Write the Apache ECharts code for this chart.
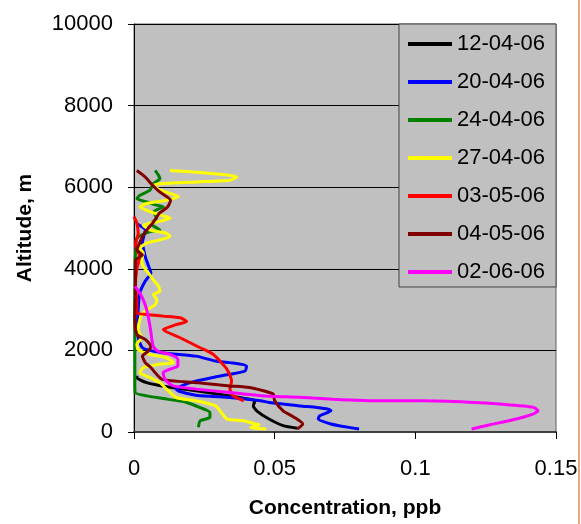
<!DOCTYPE html>
<html>
<head>
<meta charset="utf-8">
<script src="https://cdn.jsdelivr.net/npm/echarts@6/dist/echarts.min.js"></script>
<style>
  html, body { margin: 0; padding: 0; background: #fff; }
  #chart { width: 581px; height: 524px; }
</style>
</head>
<body>
<div id="chart"></div>
<script>
// [concentration ppb, altitude m]
var dates = ['12-04-06', '20-04-06', '24-04-06', '27-04-06', '03-05-06', '04-05-06', '02-06-06']
var colors = ['#000000', '#0000FF', '#008000', '#FFFF00', '#FF0000', '#800000', '#FF00FF']

var p120406 = [[0.058, 90], [0.053, 155], [0.048, 317], [0.0436, 520], [0.0424, 640], [0.043, 765], [0.041, 805],
  [0.034, 885], [0.022, 1010], [0.010, 1130], [0.0045, 1210], [0.001, 1335], [0.001, 1380]]

var p200406 = [[0.080, 73], [0.074, 140], [0.070, 195], [0.0655, 317], [0.066, 400], [0.070, 520], [0.069, 560],
  [0.065, 600], [0.059, 640], [0.048, 725], [0.045, 765], [0.034, 846], [0.028, 870], [0.022, 900], [0.016, 1000],
  [0.015, 1050], [0.017, 1130], [0.020, 1210], [0.028, 1335], [0.034, 1415], [0.0395, 1495], [0.040, 1620],
  [0.034, 1700], [0.029, 1740], [0.022, 1860], [0.010, 1944], [0.003, 2065], [0.001, 2510], [0.0015, 3000],
  [0.002, 3400], [0.004, 3700], [0.006, 3900], [0.005, 4100], [0.004, 4300], [0.003, 4650], [0.004, 4950], [0.001, 5100]]

var p240406 = [[0.0229, 115], [0.0235, 275], [0.027, 358], [0.027, 480], [0.0235, 600], [0.0187, 725], [0.0104, 820],
  [0.0045, 885], [0.0004, 968], [0.0003, 1200], [0.0003, 2000], [0.0003, 3000], [0.0004, 4000], [0.0006, 4500],
  [0.001, 4750], [0.0057, 4910], [0.0092, 4950], [0.006, 5100], [0.008, 5240], [0.007, 5400], [0.0104, 5520],
  [0.0081, 5560], [0.0045, 5640], [0.001, 5720], [0.0021, 5800], [0.0057, 5930], [0.0069, 6090], [0.0092, 6210],
  [0.0087, 6290], [0.0075, 6410]]

var p270406 = [[0.047, 73], [0.0415, 105], [0.0445, 180], [0.043, 200], [0.039, 275], [0.033, 317], [0.031, 480],
  [0.029, 640], [0.022, 765], [0.015, 846], [0.0116, 1050], [0.0092, 1210], [0.0057, 1335], [0.0021, 1455],
  [0.0033, 1580], [0.0092, 1660], [0.014, 1700], [0.0116, 1820], [0.0057, 1900], [0.0015, 2020], [0.001, 2150],
  [0.0027, 2310], [0.0015, 2510], [0.0021, 2760], [0.0033, 2920], [0.0057, 3040], [0.0075, 3120], [0.0081, 3240],
  [0.0069, 3370], [0.0092, 3450], [0.0087, 3570], [0.0069, 3730], [0.0051, 3900], [0.0033, 4060], [0.0027, 4220],
  [0.0033, 4380], [0.0021, 4500], [0.0045, 4630], [0.0092, 4710], [0.0128, 4790], [0.0116, 4870], [0.0057, 4950],
  [0.0033, 5070], [0.0081, 5150], [0.0128, 5240], [0.0092, 5320], [0.0057, 5400], [0.0021, 5520], [0.0045, 5600],
  [0.0116, 5680], [0.0158, 5770], [0.0128, 5850], [0.0092, 5930], [0.0069, 6050], [0.0104, 6090], [0.0223, 6130],
  [0.0341, 6170], [0.0365, 6250], [0.0341, 6290], [0.0211, 6370], [0.0128, 6410]]

var p030506 = [[0.039, 765], [0.0353, 885], [0.0341, 1050], [0.0347, 1250], [0.033, 1540], [0.0282, 1900],
  [0.0235, 2065], [0.0164, 2310], [0.0104, 2510], [0.015, 2630], [0.0187, 2710], [0.0164, 2800], [0.0104, 2840],
  [0.0045, 2880], [0.001, 2920], [0.001, 3200], [0.0005, 3600], [0.001, 4000], [0.002, 4300], [0.0005, 4600],
  [0.0015, 4870], [0.001, 5120], [0.0, 5280]]

var p040506 = [[0.058, 73], [0.060, 195], [0.057, 358], [0.053, 520], [0.050, 765], [0.0495, 927], [0.046, 1010],
  [0.041, 1090], [0.034, 1130], [0.022, 1210], [0.010, 1290], [0.007, 1495], [0.006, 1580], [0.004, 1700],
  [0.003, 1860], [0.005, 1980], [0.006, 2100], [0.004, 2270], [0.001, 2390], [0.0003, 2800], [0.0005, 3500],
  [0.0005, 4200], [0.003, 4340], [0.001, 4460], [0.002, 4630], [0.003, 4790], [0.005, 4990], [0.007, 5150],
  [0.009, 5360], [0.012, 5520], [0.013, 5680], [0.009, 5890], [0.006, 6090], [0.004, 6250], [0.001, 6410]]

var p020606 = [[0.120, 73], [0.1266, 178], [0.1347, 300], [0.1418, 440], [0.1436, 520], [0.1418, 610], [0.131, 680],
  [0.119, 730], [0.1028, 765], [0.0875, 765], [0.0707, 805], [0.059, 850], [0.045, 890], [0.034, 968],
  [0.0223, 1050], [0.0139, 1130], [0.011, 1290], [0.0104, 1455], [0.0128, 1540], [0.0156, 1620], [0.0156, 1780],
  [0.0128, 1900], [0.0085, 1980], [0.0068, 2100], [0.0057, 2590], [0.0045, 3000], [0.0033, 3240], [0.0021, 3400],
  [0.0004, 3570]]

var profiles = [p120406, p200406, p240406, p270406, p030506, p040506, p020606]

var xTicks = { min: 0, max: 0.15, interval: 0.05 }
var yTicks = { min: 0, max: 10000, interval: 2000 }

var font = 'Liberation Sans, Arial, sans-serif'
var chart = echarts.init(document.getElementById('chart'), null, { renderer: 'canvas' })

var series = []
profiles.forEach(function (item, index) {
  series.push({
    name: dates[index],
    type: 'line',
    data: item,
    symbol: 'none',
    smooth: 0.2,
    color: colors[index],
    lineStyle: { width: 3, color: colors[index] }
  })
})

var option = {
  backgroundColor: '#ffffff',
  animation: false,
  textStyle: { fontFamily: font },
  grid: {
    left: 134,
    top: 24,
    width: 422,
    height: 409,
    show: true,
    backgroundColor: '#C0C0C0',
    borderColor: '#606060',
    borderWidth: 1
  },
  legend: {
    orient: 'vertical',
    left: 399,
    top: 24,
    data: dates,
    icon: 'rect',
    itemWidth: 44,
    itemHeight: 4,
    itemGap: 16,
    padding: [9, 11, 4, 9],
    backgroundColor: '#C0C0C0',
    borderColor: '#404040',
    borderWidth: 1,
    textStyle: { fontSize: 22, color: '#000', fontFamily: font }
  },
  xAxis: {
    type: 'value',
    min: xTicks.min,
    max: xTicks.max,
    interval: xTicks.interval,
    name: 'Concentration, ppb',
    nameLocation: 'middle',
    nameGap: 66,
    nameTextStyle: { fontSize: 21, fontWeight: 'bold', color: '#000', fontFamily: font },
    axisLine: { lineStyle: { color: '#404040', width: 2 } },
    axisTick: { show: true, length: 7, lineStyle: { color: '#000' } },
    axisLabel: { fontSize: 22, color: '#000', margin: 26, fontFamily: font },
    splitLine: { show: false }
  },
  yAxis: {
    type: 'value',
    min: yTicks.min,
    max: yTicks.max,
    interval: yTicks.interval,
    name: 'Altitude, m',
    nameLocation: 'middle',
    nameRotate: 90,
    nameGap: 98,
    nameTextStyle: { fontSize: 21, fontWeight: 'bold', color: '#000', fontFamily: font },
    axisLine: { show: true, lineStyle: { color: '#000', width: 1 } },
    axisTick: { show: true, length: 6, lineStyle: { color: '#000' } },
    axisLabel: {
      fontSize: 22,
      color: '#000',
      margin: 21,
      fontFamily: font,
      formatter: function (value) {
        return String(value)
      }
    },
    splitLine: { show: true, lineStyle: { color: '#000', width: 1 } }
  },
  graphic: [
    {
      type: 'rect',
      left: 578,
      top: 0,
      shape: { width: 2, height: 524 },
      style: { fill: '#E0A880' }
    }
  ],
  series: series
}
chart.setOption(option)
</script>
</body>
</html>
